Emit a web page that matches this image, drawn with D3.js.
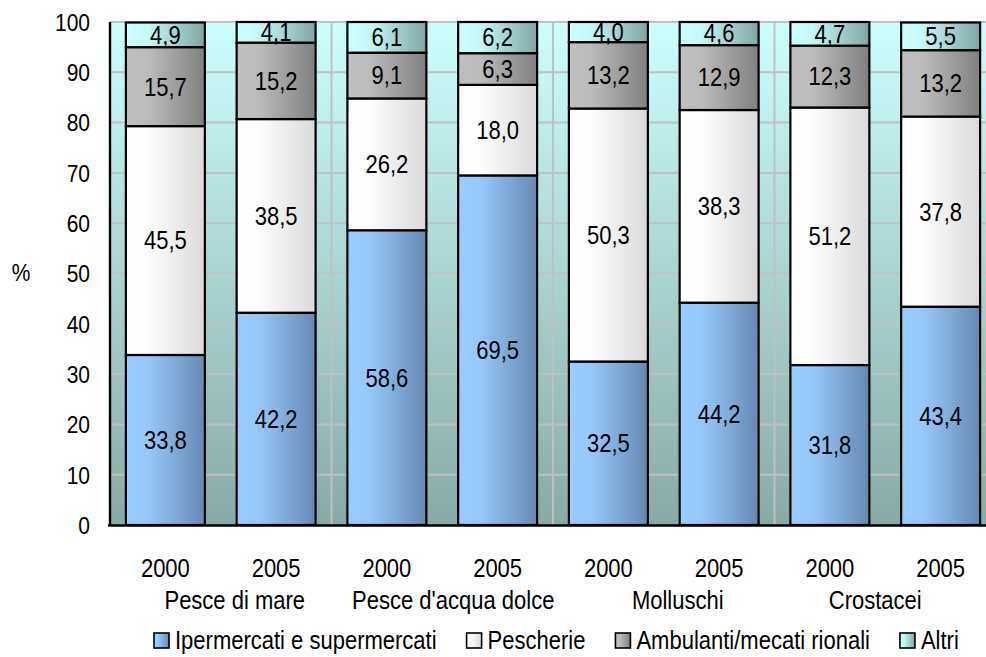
<!DOCTYPE html>
<html>
<head>
<meta charset="utf-8">
<script src="https://cdn.jsdelivr.net/npm/d3@7/dist/d3.min.js"></script>
<style>
  html, body { margin: 0; padding: 0; background: #ffffff; }
  svg { display: block; }
  text { font-family: "Liberation Sans", Arial, sans-serif; fill: #000; }
</style>
</head>
<body>
<svg id="chart" width="986" height="657"></svg>
<script>
// Product groups and survey years
const categories = ["Pesce di mare", "Pesce d'acqua dolce", "Molluschi", "Crostacei"];
const years = ["2000", "2005"];

// Share of purchases by channel (%), one value per category/year bar
const ipermercati = [33.8, 42.2, 58.6, 69.5, 32.5, 44.2, 31.8, 43.4];
const pescherie   = [45.5, 38.5, 26.2, 18.0, 50.3, 38.3, 51.2, 37.8];
const ambulanti   = [15.7, 15.2, 9.1, 6.3, 13.2, 12.9, 12.3, 13.2];
const altri       = [4.9, 4.1, 6.1, 6.2, 4.0, 4.6, 4.7, 5.5];

const seriesNames = ["Ipermercati e supermercati", "Pescherie", "Ambulanti/mecati rionali", "Altri"];
const yTicks = [0, 10, 20, 30, 40, 50, 60, 70, 80, 90, 100];

const seriesValues = [ipermercati, pescherie, ambulanti, altri];
const bars = [];
categories.forEach((c, ci) => years.forEach((y, yi) => bars.push({ cat: c, year: y, idx: ci * years.length + yi })));

const svg = d3.select("#chart");
const W = 986, H = 657;
const plot = { left: 110, right: 996, top: 22, bottom: 525 };

const FS = 22, SY = 1.13;               // font size and vertical stretch of all text
const capH = 0.716 * FS * SY;
// horizontal nudge of each category caption from its group centre
const catShift = [14, 11, 14, -10];

const x = d3.scaleBand()
  .domain(bars.map(d => d.idx))
  .range([plot.left, plot.right])
  .paddingInner(0.287)
  .paddingOuter(0.1435);
const xGroup = d3.scaleBand()
  .domain(categories)
  .range([plot.left, plot.right]);
const y = d3.scaleLinear().domain([0, 100]).range([plot.bottom, plot.top]);

// Gradients
const defs = svg.append("defs");
const bg = defs.append("linearGradient").attr("id", "bg").attr("x1", 0).attr("y1", 0).attr("x2", 0).attr("y2", 1);
bg.append("stop").attr("offset", "0%").attr("stop-color", "#ccffff");
bg.append("stop").attr("offset", "100%").attr("stop-color", "#88aaa6");

const fills = [
  ["#99ccff", "#97c8fa", "#6689b2"],
  ["#ffffff", "#fdfdfd", "#dadada"],
  ["#c0c0c0", "#bcbcbc", "#808080"],
  ["#ccffff", "#c6f8f8", "#7fa6a4"]
];
fills.forEach((f, i) => {
  const g = defs.append("linearGradient").attr("id", "fill" + i).attr("x1", 0).attr("y1", 0).attr("x2", 1).attr("y2", 0);
  g.append("stop").attr("offset", "0%").attr("stop-color", f[0]);
  g.append("stop").attr("offset", "28%").attr("stop-color", f[1]);
  g.append("stop").attr("offset", "100%").attr("stop-color", f[2]);
});

function label(sel, tx, ty, str, anchor, fs) {
  return sel.append("text")
    .attr("transform", `translate(${tx},${ty}) scale(1,${SY})`)
    .attr("text-anchor", anchor || "middle")
    .style("font-size", (fs || FS) + "px")
    .text(str);
}

// Plot background
svg.append("rect")
  .attr("x", plot.left).attr("y", plot.top)
  .attr("width", plot.right - plot.left).attr("height", plot.bottom - plot.top)
  .attr("fill", "url(#bg)");

// Gridlines
svg.append("g").selectAll("line.h").data(yTicks.filter(t => t > 0)).join("line")
  .attr("x1", plot.left).attr("x2", plot.right)
  .attr("y1", d => y(d)).attr("y2", d => y(d))
  .attr("stroke", "#c0c0c0").attr("stroke-width", 2);
svg.append("g").selectAll("line.v").data(categories.slice(1)).join("line")
  .attr("x1", d => xGroup(d)).attr("x2", d => xGroup(d))
  .attr("y1", plot.top).attr("y2", plot.bottom)
  .attr("stroke", "#c0c0c0").attr("stroke-width", 2);

// Stacked bars
const stackData = bars.map(b => {
  let acc = 0;
  return seriesValues.map((vals, si) => {
    const v = vals[b.idx];
    const seg = { idx: b.idx, s: si, y0: acc, y1: acc + v, v: v };
    acc += v;
    return seg;
  });
}).flat();

const gBars = svg.append("g");
gBars.selectAll("rect").data(stackData).join("rect")
  .attr("x", d => x(d.idx))
  .attr("width", x.bandwidth())
  .attr("y", d => y(d.y1))
  .attr("height", d => y(d.y0) - y(d.y1))
  .attr("fill", d => `url(#fill${d.s})`)
  .attr("stroke", "#000").attr("stroke-width", 2.2);

// Value labels centred in each segment
const fmt = v => d3.format(".1f")(v).replace(".", ",");
stackData.forEach(d => {
  const cy = (y(d.y0) + y(d.y1)) / 2;
  label(gBars, x(d.idx) + x.bandwidth() / 2, cy + capH / 2, fmt(d.v));
});

// Axes
svg.append("line").attr("x1", plot.left).attr("x2", plot.left)
  .attr("y1", plot.top).attr("y2", plot.bottom + 1)
  .attr("stroke", "#000").attr("stroke-width", 2.4);
svg.append("line").attr("x1", plot.left - 2).attr("x2", W)
  .attr("y1", plot.bottom + 0.5).attr("y2", plot.bottom + 0.5)
  .attr("stroke", "#000").attr("stroke-width", 2.4);

// Y tick labels
const gy = svg.append("g");
yTicks.forEach(t => label(gy, 90, y(t) + capH / 2, String(t), "end", 21));
label(gy, 21, 272 + capH / 2, "%", "middle", 21);

// X labels: years under each bar, category under each pair
const gx = svg.append("g");
bars.forEach(b => label(gx, x(b.idx) + x.bandwidth() / 2, 577, b.year));
categories.forEach((c, i) => label(gx, xGroup(c) + xGroup.bandwidth() / 2 + catShift[i], 609, c));

// Legend
const gl = svg.append("g");
let lx = 154;
const sq = 15, ly = 649;
seriesNames.forEach((n, i) => {
  gl.append("rect").attr("x", lx).attr("y", ly - 16).attr("width", sq).attr("height", sq)
    .attr("fill", `url(#fill${i})`).attr("stroke", "#000").attr("stroke-width", 1.6);
  const t = label(gl, lx + sq + 6, ly, n, "start");
  lx += sq + 6 + t.node().getComputedTextLength() + 30;
});
</script>
</body>
</html>
